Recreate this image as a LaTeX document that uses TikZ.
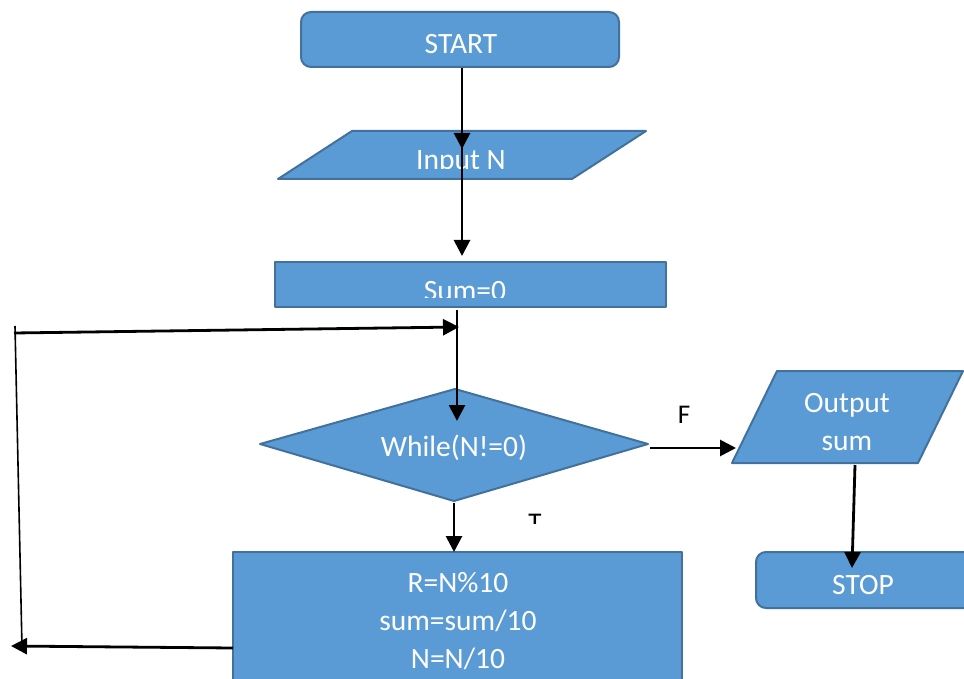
\documentclass[tikz,border=0pt]{standalone}
\usepackage{fontspec}
\setmainfont{Carlito}
\usetikzlibrary{arrows.meta}
\definecolor{boxfill}{HTML}{5B9BD5}
\definecolor{boxline}{HTML}{41719C}
\begin{document}
\begin{tikzpicture}[x=1pt,y=-1pt,
  shapebox/.style={fill=boxfill, draw=boxline, line width=2pt, line join=round},
  boxtext/.style={font=\fontsize{29.5}{35}\selectfont, text=white, anchor=base, inner sep=0pt},
  tagtext/.style={font=\fontsize{27}{32}\selectfont, text=black, anchor=base, inner sep=0pt},
  flow/.style={line width=2.8pt, -{Triangle[length=16pt,width=16pt]}},
  thinline/.style={line width=1.6pt},
]
\useasboundingbox (0,0) rectangle (964,679);
\clip (0,0) rectangle (964,679);

% ---- shapes ----
% terminal: start
\draw[shapebox, rounded corners=10pt] (301,12) rectangle (619,67);
\node[boxtext] (start) at (461,54) {START};

% input
\draw[shapebox] (352,131) -- (646,131) -- (572,179) -- (278,179) -- cycle;
\begin{scope}
  \clip (278,131) rectangle (646,169);
  \node[boxtext] (input) at (461,170) {Input N};
\end{scope}

% initialisation
\draw[shapebox] (275,262) rectangle (666,307);
\begin{scope}
  \clip (275,262) rectangle (666,297);
  \node[boxtext] (init) at (465,300) {Sum=0};
\end{scope}

% loop test
\draw[shapebox] (260,444) -- (455,389) -- (648,444) -- (454,501) -- cycle;
\node[boxtext] (test) at (454,456) {While(N!=0)};

% loop body
\draw[shapebox] (233,552) rectangle (682,700);
\node[boxtext] (body1) at (458,592) {R=N\%10};
\node[boxtext] (body2) at (458,630) {sum=sum/10};
\node[boxtext] (body3) at (458,668) {N=N/10};

% output
\draw[shapebox] (777,371) -- (963,371) -- (918,463) -- (732,463) -- cycle;
\node[boxtext] (out1) at (847,412) {Output};
\node[boxtext] (out2) at (847,450) {sum};

% terminal: stop
\draw[shapebox, rounded corners=10pt] (756,552) rectangle (1000,608);
\node[boxtext] (stop) at (863,594) {STOP};

% branch labels
\node[tagtext] (false) at (684,423) {F};
\begin{scope}
  \clip (500,500) rectangle (570,523);
  \node[tagtext] (true) at (535,531) {T};
\end{scope}

% ---- connector end points ----
\coordinate (startS)  at (462,68);
\coordinate (inputN)  at (462,149);
\coordinate (inputS)  at (462,147);
\coordinate (initN)   at (462,256);
\coordinate (initS)   at (457,310);
\coordinate (testN)   at (457,421);
\coordinate (testS)   at (454,503);
\coordinate (bodyN)   at (454,552);
\coordinate (testE)   at (650,448);
\coordinate (outW)    at (736,448);
\coordinate (outS)    at (855,465);
\coordinate (stopN)   at (852,568);
\coordinate (bodyW)   at (233,648);
\coordinate (loopSW)  at (11,646);
\coordinate (loopNW)  at (14,333);
\coordinate (loopTop) at (15,326);
\coordinate (loopBot) at (22,647);
\coordinate (loopIn)  at (459,327);

% ---- connectors ----
\draw[flow] (startS) -- (inputN);
\draw[flow] (inputS) -- (initN);
\draw[flow] (initS) -- (testN);
\draw[flow] (testS) -- (bodyN);
\draw[flow] (testE) -- (outW);
\draw[flow] (outS) -- (stopN);
\draw[flow] (bodyW) -- (loopSW);
\draw[thinline] (loopTop) -- (loopBot);
\draw[flow] (loopNW) -- (loopIn);
\end{tikzpicture}
\end{document}
